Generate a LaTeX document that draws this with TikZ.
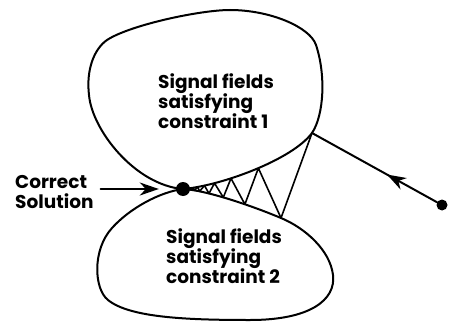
\documentclass[tikz,border=0pt]{standalone}
\usepackage{fontspec}
\newfontfamily\figsans{Poppins}
\usetikzlibrary{arrows.meta, decorations.markings}
\tikzset{
  >={Stealth[length=19pt, width=13pt, inset=6pt]},
  every picture/.style={line cap=round, line join=round},
  blob/.style={line width=2pt},
  zig/.style={line width=1.6pt},
  lbl/.style={font=\figsans\bfseries\fontsize{18.5}{20}\selectfont, align=left,
    inner sep=0pt, anchor=north west},
  soldot/.style={circle, fill, inner sep=0pt, minimum size=14pt},
  enddot/.style={circle, fill, inner sep=0pt, minimum size=11pt},
  % arrow tip half way along a line
  midarrow/.style={postaction={decorate},
    decoration={markings, mark=at position #1 with {\arrow{>}}}},
}

\begin{document}
\begin{tikzpicture}[x=1pt, y=-1pt]
  \useasboundingbox (0,0) rectangle (449,321);
  \clip (0,0) rectangle (449,321);
  % touching point and the two edge junctions
  \coordinate (D) at (183,189);
  \coordinate (J) at (312,133);
  \coordinate (K) at (281,218);
  % constraint set 1
  \draw[blob] (D) .. controls (220,186) and (292,160) .. (J)
    .. controls (324,115) and (326,75) .. (316,45)
    .. controls (310,27) and (270,10) .. (230,10)
    .. controls (200,10) and (130,25) .. (107,40)
    .. controls (94,49) and (86,70) .. (89,95)
    .. controls (92,130) and (135,185) .. cycle;
  % constraint set 2
  \draw[blob] (D) .. controls (205,190) and (250,205) .. (K)
    .. controls (305,228) and (330,250) .. (333,275)
    .. controls (336,300) and (310,320) .. (250,320)
    .. controls (190,320) and (130,318) .. (108,300)
    .. controls (94,289) and (92,250) .. (112,228)
    .. controls (130,208) and (160,192) .. cycle;
  % points on the facing edges
  \path (D) .. controls (220,186) and (292,160) .. (J)
    coordinate[pos=.53] (u1) coordinate[pos=.35] (u2) coordinate[pos=.24] (u3)
    coordinate[pos=.17] (u4) coordinate[pos=.12] (u5) coordinate[pos=.085] (u6);
  \path (D) .. controls (205,190) and (250,205) .. (K)
    coordinate[pos=.65] (l1) coordinate[pos=.45] (l2) coordinate[pos=.31] (l3)
    coordinate[pos=.21] (l4) coordinate[pos=.15] (l5) coordinate[pos=.1] (l6);
  % alternating projections
  \draw[zig] (J) -- (K) \foreach \i in {1,...,6} { -- (u\i) -- (l\i) };

  \node[soldot] (sol) at (D) {};
  \node[enddot] (init) at (442,205) {};
  \draw[blob, midarrow=0.4] (init) -- (J);

  \node[lbl] (c1) at (158,73) {Signal fields\\satisfying\\constraint 1};
  \node[lbl] (c2) at (166,228) {Signal fields\\satisfying\\constraint 2};
  \node[lbl] (lab) at (15,175) {Correct\\Solution};
  \draw[blob, ->, shorten >=17pt] ([xshift=7pt]lab.east |- sol) -- (sol);
\end{tikzpicture}
\end{document}
